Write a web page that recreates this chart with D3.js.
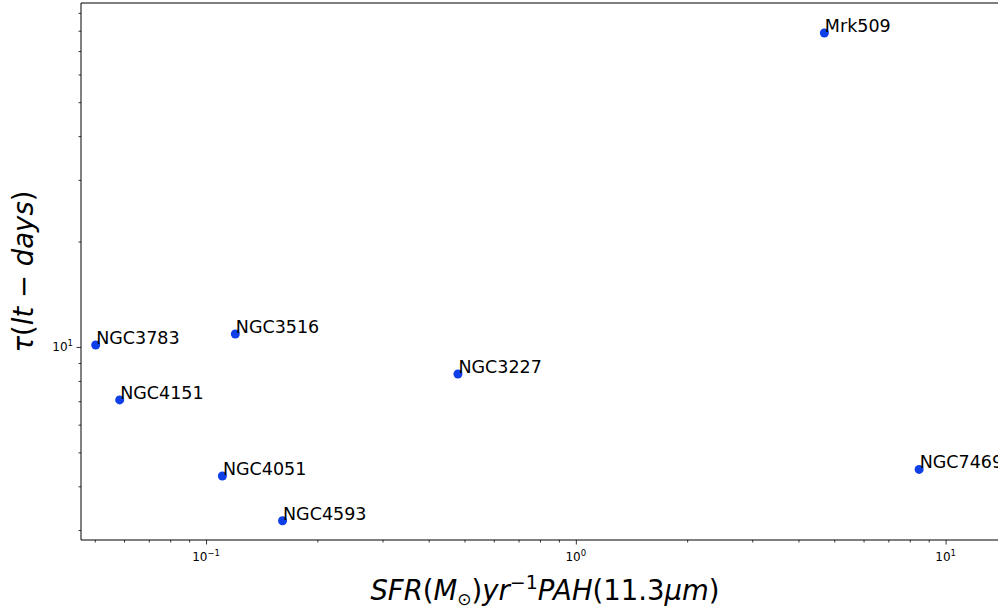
<!DOCTYPE html>
<html>
<head>
<meta charset="utf-8">
<script src="https://cdn.jsdelivr.net/npm/d3@7"></script>
<style>
  html, body { margin: 0; padding: 0; background: #fff; }
  svg { display: block; font-family: 'DejaVu Sans', sans-serif; }
</style>
</head>
<body>
<div id="chart"></div>
<script>
// galaxy names, star formation rate (x) and lag tau (y)
const names = ['NGC3783', 'NGC4151', 'NGC3516', 'NGC3227', 'NGC4051', 'NGC4593', 'NGC7469', 'Mrk509']
const sfr = [0.0503, 0.0584, 0.120, 0.48, 0.1107, 0.161, 8.48, 4.70]
const tau = [10.13, 7.06, 10.89, 8.37, 4.28, 3.19, 4.47, 78.8]

const xMajor = [0.1, 1, 10]
const xMajorExp = ['\u22121', '0', '1']
const yMajor = [10]
const yMajorExp = ['1']

const width = 998
const height = 610
const margin = { top: 3, right: -11, bottom: 70, left: 81 }
const color = '#0f3fe8'

const svg = d3.select('#chart')
  .append('svg')
  .attr('width', width)
  .attr('height', height)
  .attr('viewBox', [0, 0, width, height])

const xScale = d3.scaleLog()
  .domain([0.0459, 14.84])
  .range([margin.left, width - margin.right])

const yScale = d3.scaleLog()
  .domain([2.81, 96])
  .range([height - margin.bottom, margin.top])

// minor ticks: every 1..9 multiple inside the domain
const minors = (scale) => {
  const [a, b] = scale.domain()
  const out = []
  for (let e = Math.floor(Math.log10(a)); e <= Math.ceil(Math.log10(b)); e++) {
    for (let m = 2; m <= 9; m++) {
      const v = m * Math.pow(10, e)
      if (v >= a && v <= b) out.push(v)
    }
  }
  return out
}

const x0 = margin.left
const x1 = width - margin.right
const y0 = height - margin.bottom
const y1 = margin.top

// x axis
const xAxis = g => g
  .attr('transform', `translate(0,${y0})`)
  .call(d3.axisBottom(xScale).tickValues(minors(xScale)).tickSize(2.5).tickFormat(''))
  .call(g => g.select('.domain').remove())

const xAxisMajor = g => g
  .attr('transform', `translate(0,${y0})`)
  .call(d3.axisBottom(xScale).tickValues(xMajor).tickSize(4.5).tickFormat(''))
  .call(g => g.select('.domain').remove())

const yAxis = g => g
  .attr('transform', `translate(${x0},0)`)
  .call(d3.axisLeft(yScale).tickValues(minors(yScale)).tickSize(2.5).tickFormat(''))
  .call(g => g.select('.domain').remove())

const yAxisMajor = g => g
  .attr('transform', `translate(${x0},0)`)
  .call(d3.axisLeft(yScale).tickValues(yMajor).tickSize(4.5).tickFormat(''))
  .call(g => g.select('.domain').remove())

svg.append('g').call(xAxis)
svg.append('g').call(xAxisMajor)
svg.append('g').call(yAxis)
svg.append('g').call(yAxisMajor)
svg.selectAll('.tick line').attr('stroke', '#000').attr('stroke-width', 0.8)

// spines
svg.append('path')
  .attr('d', `M${x0},${y1}H${x1}M${x0},${y1}V${y0}H${x1}`)
  .attr('fill', 'none')
  .attr('stroke', '#000')
  .attr('stroke-width', 1)

// tick labels as 10^n
xMajor.forEach((v, i) => {
  const t = svg.append('text')
    .attr('x', xScale(v))
    .attr('y', y0 + 21)
    .attr('text-anchor', 'middle')
    .attr('font-size', 12)
    .attr('fill', '#000')
  t.append('tspan').text('10')
  t.append('tspan').attr('dy', -5).attr('font-size', 8.5).text(xMajorExp[i])
})

yMajor.forEach((v, i) => {
  const t = svg.append('text')
    .attr('x', x0 - 8)
    .attr('y', yScale(v) + 4)
    .attr('text-anchor', 'end')
    .attr('font-size', 12)
    .attr('fill', '#000')
  t.append('tspan').text('10')
  t.append('tspan').attr('dy', -5).attr('font-size', 8.5).text(yMajorExp[i])
})

// points
svg.append('g')
  .selectAll('circle')
  .data(names)
  .join('circle')
  .attr('cx', (d, i) => xScale(sfr[i]))
  .attr('cy', (d, i) => yScale(tau[i]))
  .attr('r', 4.5)
  .attr('fill', color)

svg.append('g')
  .selectAll('text')
  .data(names)
  .join('text')
  .attr('x', (d, i) => xScale(sfr[i]) + 0.5)
  .attr('y', (d, i) => yScale(tau[i]) - 1)
  .attr('font-size', 17.5)
  .attr('fill', '#000')
  .text(d => d)

// axis labels (mathtext style)
const xl = svg.append('text')
  .attr('x', (x0 + x1) / 2)
  .attr('y', 600)
  .attr('text-anchor', 'middle')
  .attr('font-size', 27.5)
  .attr('fill', '#000')
const part = (sel, txt, it, extra) => {
  const s = sel.append('tspan').text(txt).attr('font-style', it ? 'italic' : 'normal')
  if (extra) extra(s)
  return s
}
part(xl, 'SFR', true)
part(xl, '(', false)
part(xl, 'M', true)
part(xl, '\u2299', false, s => s.attr('font-size', 17).attr('dy', 5))
part(xl, ')', false, s => s.attr('dy', -5))
part(xl, 'yr', true)
part(xl, '\u22121', false, s => s.attr('font-size', 19).attr('dy', -11))
part(xl, 'PAH', true, s => s.attr('dy', 11))
part(xl, '(11.3', false)
part(xl, '\u03bcm', true)
part(xl, ')', false)

const yl = svg.append('text')
  .attr('transform', `translate(33,${(y0 + y1) / 2}) rotate(-90)`)
  .attr('text-anchor', 'middle')
  .attr('font-size', 27.5)
  .attr('fill', '#000')
part(yl, '\u03c4', true)
part(yl, '(', false)
part(yl, 'lt', true)
part(yl, ' \u2212 ', false)
part(yl, 'days', true)
part(yl, ')', false)
</script>
</body>
</html>
